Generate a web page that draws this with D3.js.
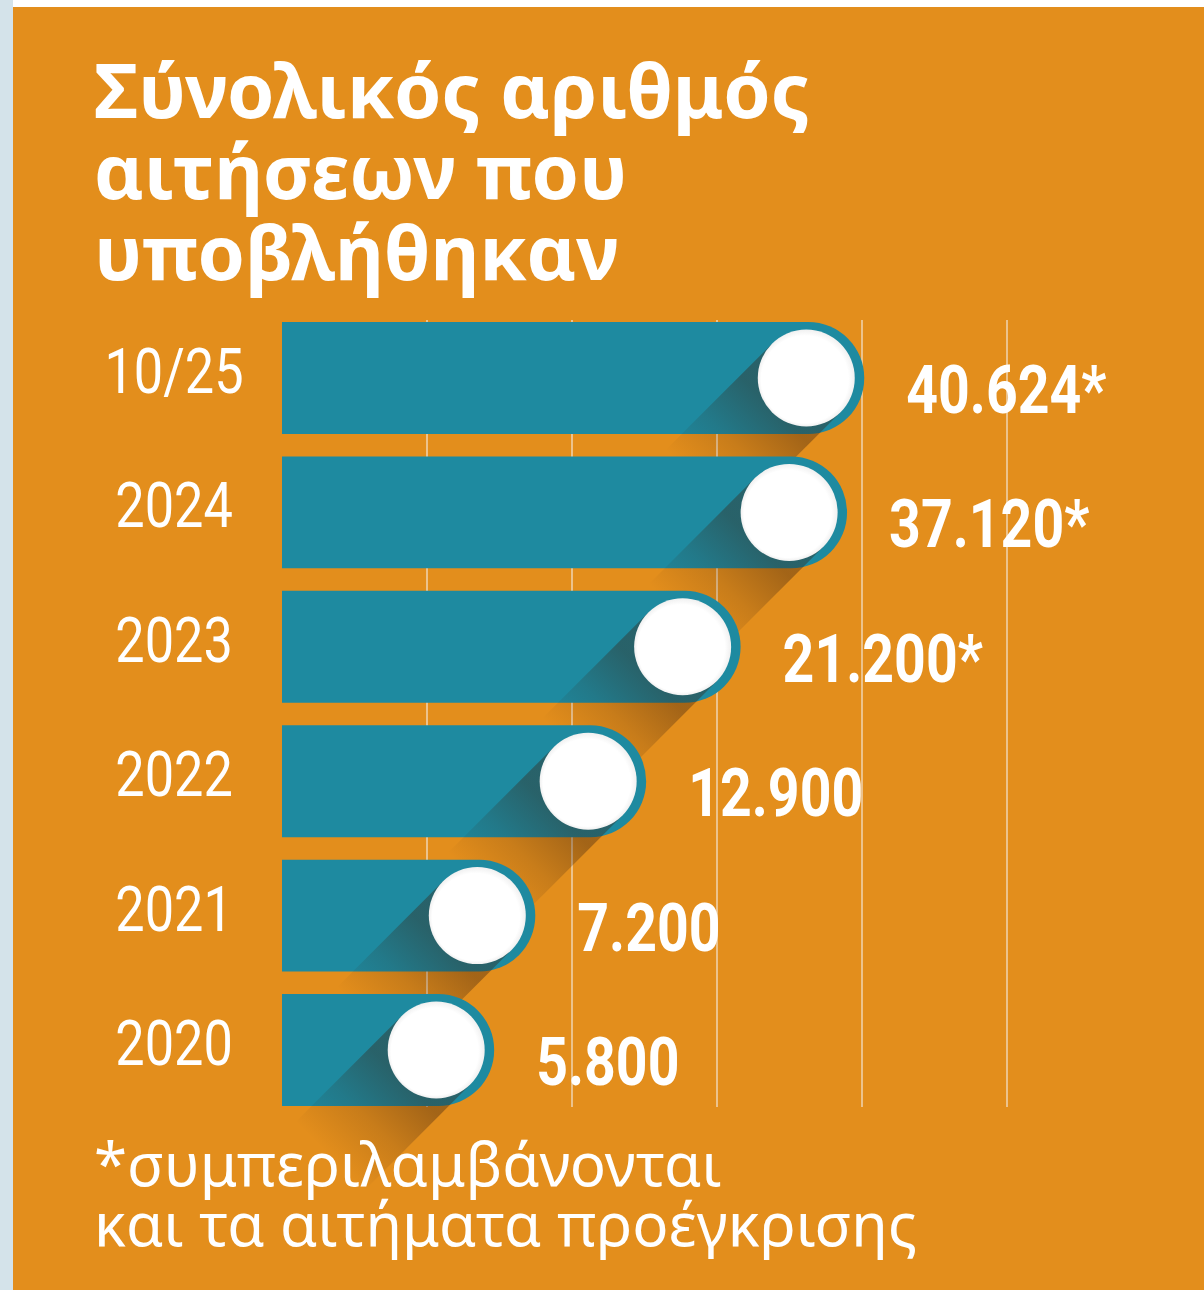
<!DOCTYPE html>
<html>
<head>
<meta charset="utf-8">
<script src="https://cdn.jsdelivr.net/npm/d3@7"></script>
<style>
  html, body { margin: 0; padding: 0; background: #ffffff; }
  svg { display: block; }
</style>
</head>
<body>
<script>
// Applications submitted per year (10/25 = up to October 2025)
const categories = ["10/25", "2024", "2023", "2022", "2021", "2020"];
const values = [40624, 37120, 21200, 12900, 7200, 5800];
// Years whose totals also include pre-approval requests (marked with *)
const includesPreApproval = [true, true, true, false, false, false];

const titleLines = ["Σύνολικός αριθμός", "αιτήσεων που", "υποβλήθηκαν"];
const footnoteLines = ["*συμπεριλαμβάνονται", "και τα αιτήματα προέγκρισης"];
const gridCount = 5;

const W = 1204, H = 1290;
const ORANGE = "#E38E1C", TEAL = "#1E8AA0";

const svg = d3.select("body").append("svg")
  .attr("width", W).attr("height", H);

const defs = svg.append("defs");

// Frame: white top edge, pale blue left edge, orange panel
svg.append("rect").attr("width", W).attr("height", H).attr("fill", "#ffffff");
svg.append("rect").attr("x", 0).attr("y", 0).attr("width", 13).attr("height", H).attr("fill", "#D4E3EA");
svg.append("rect").attr("x", 13).attr("y", 7).attr("width", W - 13).attr("height", H - 7).attr("fill", ORANGE);

// Title, one text element per line
svg.append("g").selectAll("text").data(titleLines).join("text")
  .attr("x", 94)
  .attr("y", (d, i) => 118 + i * 81)
  .attr("font-family", "'Noto Sans', sans-serif")
  .attr("font-weight", 700)
  .attr("font-size", 76)
  .attr("fill", "#ffffff")
  .text(d => d);

// Scales
const x0 = 282;
const x = d3.scaleLog().domain([1900, 41000]).range([x0, 866]);
const y = d3.scaleBand().domain(categories).range([322, 1106]).paddingInner(0.167).paddingOuter(0);
const grid = d3.scaleLinear().domain([0, gridCount]).range([x0, x0 + gridCount * 145]);

const fmt = d3.formatLocale({ decimal: ",", thousands: ".", grouping: [3], currency: ["", "€"] }).format(",d");

// Vertical guide lines behind the bars
svg.append("g").selectAll("line")
  .data(d3.range(1, gridCount + 1))
  .join("line")
  .attr("x1", d => grid(d)).attr("x2", d => grid(d))
  .attr("y1", 320).attr("y2", 1107)
  .attr("stroke", "#F1E6D8")
  .attr("stroke-opacity", 0.6)
  .attr("stroke-width", 2);

// Knob face shading: white with a faint rim at the upper right
const knob = defs.append("radialGradient").attr("id", "knob")
  .attr("cx", "0.5").attr("cy", "0.5").attr("r", "0.5")
  .attr("fx", "0.35").attr("fy", "0.65");
knob.append("stop").attr("offset", "0.9").attr("stop-color", "#ffffff");
knob.append("stop").attr("offset", "1").attr("stop-color", "#F0F0F0");

const rows = categories.map((c, i) => ({ cat: c, value: values[i], star: includesPreApproval[i], i }));
const bw = y.bandwidth();
const r = bw / 2;
const knobR = 48.5;
const shadowLen = 150;
const s2 = Math.SQRT1_2;

rows.forEach(d => {
  const top = y(d.cat);
  const cy = top + r;
  const xe = x(d.value);
  const cx = xe - r - 2;
  const g = svg.append("g");

  // Bar with a rounded right end
  g.append("path")
    .attr("d", `M${x0},${top} H${xe - r} A${r},${r} 0 0 1 ${xe - r},${top + bw} H${x0} Z`)
    .attr("fill", TEAL);

  // Long diagonal shadow cast by the knob
  const gid = "sh" + d.i;
  const grad = defs.append("linearGradient").attr("id", gid)
    .attr("gradientUnits", "userSpaceOnUse")
    .attr("x1", cx).attr("y1", cy)
    .attr("x2", cx - shadowLen * s2).attr("y2", cy + shadowLen * s2);
  grad.append("stop").attr("offset", 0.3).attr("stop-color", "#3a2010").attr("stop-opacity", 0.38);
  grad.append("stop").attr("offset", 0.65).attr("stop-color", "#3a2010").attr("stop-opacity", 0.16);
  grad.append("stop").attr("offset", 1).attr("stop-color", "#3a2010").attr("stop-opacity", 0);

  const n = [knobR * s2, knobR * s2];
  const dv = [-shadowLen * s2, shadowLen * s2];
  const p1 = [cx - n[0], cy - n[1]];
  const p2 = [cx + n[0], cy + n[1]];
  const p3 = [p2[0] + dv[0], p2[1] + dv[1]];
  const p4 = [p1[0] + dv[0], p1[1] + dv[1]];
  g.append("path")
    .attr("d", d3.line()([p1, p2, p3, p4]) + "Z")
    .attr("fill", `url(#${gid})`);

  // White knob
  g.append("circle")
    .attr("cx", cx).attr("cy", cy).attr("r", knobR)
    .attr("fill", "url(#knob)");

  // Value label
  g.append("text")
    .attr("transform", `translate(${xe + 42},${cy + 35}) scale(0.84,1)`)
    .attr("font-family", "Roboto, sans-serif")
    .attr("font-weight", 700)
    .attr("font-size", 66)
    .attr("fill", "#ffffff")
    .text(fmt(d.value) + (d.star ? "*" : ""));

  // Category label
  g.append("text")
    .attr("transform", `translate(174,${cy + 15}) scale(0.83,1)`)
    .attr("text-anchor", "middle")
    .attr("font-family", "Roboto, sans-serif")
    .attr("font-weight", 400)
    .attr("font-size", 63)
    .attr("fill", "#ffffff")
    .text(d.cat);
});

// Footnote, one text element per line
svg.append("g").selectAll("text").data(footnoteLines).join("text")
  .attr("x", 94)
  .attr("y", (d, i) => 1186 + i * 60)
  .attr("font-family", "'Noto Sans', sans-serif")
  .attr("font-weight", 400)
  .attr("font-size", 60)
  .attr("fill", "#ffffff")
  .text(d => d);
</script>
</body>
</html>
